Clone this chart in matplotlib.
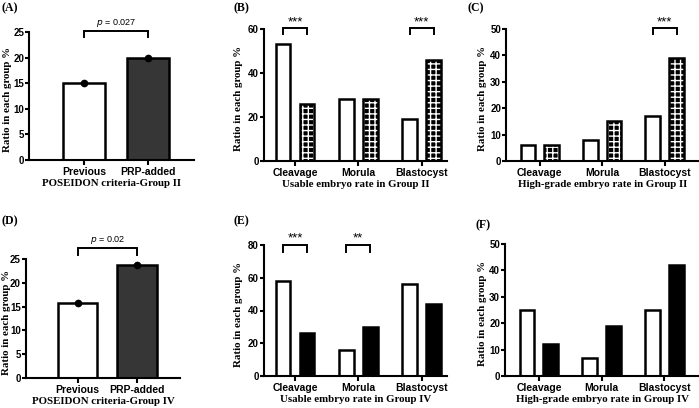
import matplotlib
matplotlib.use("Agg")
import matplotlib.pyplot as plt

W, H = 699, 408

# ---------------- data ----------------
two_groups = ["Previous", "PRP-added"]
stages = ["Cleavage", "Morula", "Blastocyst"]

a_vals = [15.0, 20.0]
d_vals = [15.7, 23.8]

b_prev = [53, 28, 19]
b_prp = [26, 28, 46]
c_prev = [6, 8, 17]
c_prp = [6, 15, 39]
e_prev = [58, 16, 56]
e_prp = [26, 30, 44]
f_prev = [25, 7, 25]
f_prp = [12, 19, 42]

SANS = "Liberation Sans"
SERIF = "Liberation Serif"
TICK_FS = 7.5
YTICK_FS = 7.0
LAB_FS = 7.8

fig = plt.figure(figsize=(W / 100, H / 100), dpi=100)


def ax_px(left, right, bottom, top):
    return fig.add_axes([left / W, (H - bottom) / H, (right - left) / W, (bottom - top) / H])


def style(ax, box, ylab_right, ylim, yticks, xlim, xticks, xticklabels, xlabel):
    ax.set_ylim(*ylim)
    ax.set_xlim(*xlim)
    ax.set_yticks(yticks)
    ax.set_yticklabels([str(t) for t in yticks], fontfamily=SANS, fontweight="bold", fontsize=YTICK_FS)
    ax.set_xticks(xticks)
    ax.set_xticklabels(xticklabels, fontfamily=SANS, fontweight="bold", fontsize=TICK_FS)
    for s in ["top", "right"]:
        ax.spines[s].set_visible(False)
    for s in ["left", "bottom"]:
        ax.spines[s].set_linewidth(1.5)
    ax.tick_params(axis="x", width=1.5, length=3.5, pad=1.5, direction="out")
    ax.tick_params(axis="y", width=1.5, length=3.0, pad=0.6, direction="out")
    ax.set_ylabel("Ratio in each group %", fontfamily=SERIF, fontweight="bold", fontsize=LAB_FS)
    left, right = box[0], box[1]
    ax.yaxis.set_label_coords((ylab_right - left) / (right - left), 0.47)
    ax.set_xlabel(xlabel, fontfamily=SERIF, fontweight="bold", fontsize=LAB_FS, labelpad=1.5)


def bracket(ax, x0, x1, ytop, ybot, text):
    ax.plot([x0, x0, x1, x1], [ybot, ytop, ytop, ybot], color="black", lw=1.4, clip_on=False,
            solid_joinstyle="miter")
    if text:
        ax.text((x0 + x1) / 2, ytop, text, ha="center", va="bottom", fontsize=9.5,
                fontfamily=SANS, clip_on=False)


def panel_label(x, y, s):
    fig.text(x / W, 1 - y / H, s, fontfamily=SERIF, fontweight="bold", fontsize=8.5, va="center", ha="left")


def two_bar_panel(box, ylab_right, vals, ylim, yticks, xlim, xlabel, ptext, btop, bbot, tpos):
    ax = ax_px(*box)
    x = [0, 1]
    ax.bar(x, vals, width=0.667, color=["white", "#363636"], edgecolor="black", linewidth=1.8, zorder=2)
    ax.plot(x, vals, "o", color="black", markersize=4.5, zorder=3, clip_on=False)
    style(ax, box, ylab_right, ylim, yticks, xlim, x, two_groups, xlabel)
    bracket(ax, 0, 1, btop, bbot, "")
    ax.text(0.5, tpos, r"$\it{p}$" + " = " + ptext, ha="center", va="bottom", fontsize=6.5,
            fontfamily=SANS, clip_on=False)
    return ax


def grouped_panel(box, ylab_right, prev, prp, ylim, yticks, xlim, xlabel, patterned, sigs, btop, bbot):
    ax = ax_px(*box)
    x = list(range(len(stages)))
    off, w = 0.19, 0.235
    xl = [i - off for i in x]
    xr = [i + off for i in x]
    ax.bar(xl, prev, width=w, color="white", edgecolor="black", linewidth=1.8, zorder=2)
    if patterned:
        ax.bar(xr, prp, width=w, color="black", edgecolor="white", linewidth=0, hatch="+++", zorder=2)
        ax.bar(xr, prp, width=w, fill=False, edgecolor="black", linewidth=1.8, zorder=3)
    else:
        ax.bar(xr, prp, width=w, color="black", edgecolor="black", linewidth=1.8, zorder=2)
    style(ax, box, ylab_right, ylim, yticks, xlim, x, stages, xlabel)
    for idx, s in sigs:
        bracket(ax, xl[idx], xr[idx], btop, bbot, s)
    return ax


# (A)
two_bar_panel((29, 194, 160, 32), 12, a_vals, (0, 25), [0, 5, 10, 15, 20, 25], (-0.873, 1.73),
              "POSEIDON criteria-Group II", "0.027", 25.2, 24.0, 25.6)
panel_label(2, 8, "(A)")

# (B)
grouped_panel((264, 447, 161, 29), 243, b_prev, b_prp, (0, 60), [0, 20, 40, 60], (-0.49, 2.4),
              "Usable embryo rate in Group II", True, [(0, "***"), (2, "***")], 60.3, 57.5)
panel_label(234, 8, "(B)")

# (C)
grouped_panel((506, 699, 161, 29), 487, c_prev, c_prp, (0, 50), [0, 10, 20, 30, 40, 50], (-0.54, 2.55),
              "High-grade embryo rate in Group II", True, [(2, "***")], 50.3, 48.0)
panel_label(468, 8, "(C)")

# (D)
two_bar_panel((26, 180, 378, 259), 11, d_vals, (0, 25), [0, 5, 10, 15, 20, 25], (-0.866, 1.72),
              "POSEIDON criteria-Group IV", "0.02", 27.3, 25.8, 27.7)
panel_label(2, 221, "(D)")

# (E)
grouped_panel((264, 447, 376, 245), 243, e_prev, e_prp, (0, 80), [0, 20, 40, 60, 80], (-0.49, 2.4),
              "Usable embryo rate in Group IV", False, [(0, "***"), (1, "**")], 80.3, 75.8)
panel_label(234, 221, "(E)")

# (F)
grouped_panel((505, 699, 376, 244), 487, f_prev, f_prp, (0, 50), [0, 10, 20, 30, 40, 50], (-0.54, 2.55),
              "High-grade embryo rate in Group IV", False, [], 50, 48)
panel_label(476, 225, "(F)")

fig.savefig("out.png", dpi=100)
